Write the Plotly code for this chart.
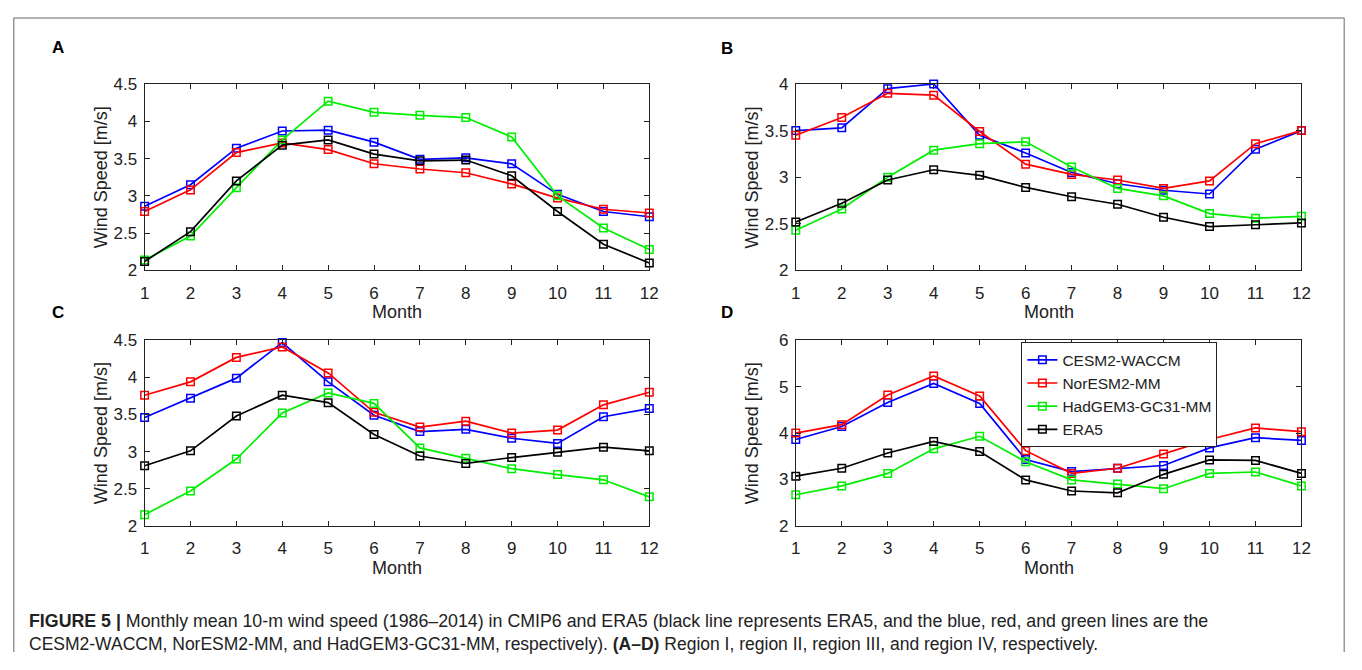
import plotly.graph_objects as go

# The page body keeps the browser's default 8px margin, so the figure is made
# 16px smaller than the window and every pixel position below is "screen - 8".
W, H = 1346, 654

months = list(range(1, 13))
series_names = ["CESM2-WACCM", "NorESM2-MM", "HadGEM3-GC31-MM", "ERA5"]
series_colors = ["#0000ff", "#ff0000", "#00ee00", "#000000"]

# Panel A (Region I)
a_cesm = [2.86, 3.15, 3.64, 3.87, 3.88, 3.72, 3.49, 3.51, 3.43, 3.02, 2.79, 2.72]
a_nor = [2.79, 3.08, 3.58, 3.71, 3.62, 3.43, 3.36, 3.31, 3.16, 2.97, 2.82, 2.77]
a_had = [2.14, 2.46, 3.11, 3.75, 4.27, 4.12, 4.08, 4.05, 3.79, 3.00, 2.57, 2.28]
a_era = [2.12, 2.52, 3.20, 3.68, 3.75, 3.56, 3.47, 3.48, 3.27, 2.79, 2.35, 2.10]
# Panel B (Region II)
b_cesm = [3.50, 3.53, 3.95, 4.00, 3.45, 3.26, 3.05, 2.93, 2.86, 2.82, 3.30, 3.50]
b_nor = [3.45, 3.64, 3.90, 3.88, 3.49, 3.14, 3.03, 2.97, 2.88, 2.96, 3.36, 3.50]
b_had = [2.43, 2.66, 3.00, 3.29, 3.36, 3.38, 3.11, 2.88, 2.80, 2.61, 2.56, 2.58]
b_era = [2.52, 2.72, 2.97, 3.08, 3.02, 2.89, 2.79, 2.71, 2.57, 2.47, 2.49, 2.51]
# Panel C (Region III)
c_cesm = [3.46, 3.72, 3.99, 4.47, 3.94, 3.49, 3.27, 3.30, 3.18, 3.11, 3.47, 3.58]
c_nor = [3.76, 3.94, 4.27, 4.41, 4.06, 3.53, 3.33, 3.41, 3.25, 3.29, 3.63, 3.80]
c_had = [2.15, 2.47, 2.90, 3.52, 3.79, 3.65, 3.05, 2.91, 2.77, 2.69, 2.62, 2.39]
c_era = [2.81, 3.01, 3.48, 3.76, 3.66, 3.23, 2.94, 2.84, 2.92, 2.99, 3.06, 3.01]
# Panel D (Region IV)
d_cesm = [3.86, 4.14, 4.66, 5.07, 4.64, 3.43, 3.17, 3.24, 3.30, 3.68, 3.90, 3.84]
d_nor = [4.00, 4.18, 4.82, 5.23, 4.80, 3.62, 3.13, 3.24, 3.55, 3.86, 4.11, 4.03]
d_had = [2.67, 2.86, 3.13, 3.66, 3.93, 3.38, 2.99, 2.90, 2.80, 3.13, 3.16, 2.86]
d_era = [3.07, 3.24, 3.57, 3.82, 3.60, 2.99, 2.75, 2.71, 3.11, 3.42, 3.41, 3.13]

panel_labels = ["A", "B", "C", "D"]
panel_data = [
    [a_cesm, a_nor, a_had, a_era],
    [b_cesm, b_nor, b_had, b_era],
    [c_cesm, c_nor, c_had, c_era],
    [d_cesm, d_nor, d_had, d_era],
]
y_ranges = [[2, 4.5], [2, 4], [2, 4.5], [2, 6]]
y_ticks = [
    [2, 2.5, 3, 3.5, 4, 4.5],
    [2, 2.5, 3, 3.5, 4],
    [2, 2.5, 3, 3.5, 4, 4.5],
    [2, 3, 4, 5, 6],
]
y_ticktext = [
    ["2", "2.5", "3", "3.5", "4", "4.5"],
    ["2", "2.5", "3", "3.5", "4"],
    ["2", "2.5", "3", "3.5", "4", "4.5"],
    ["2", "3", "4", "5", "6"],
]

# panel boxes in figure pixels (left, right, top, bottom)
boxes = [(133, 643, 69, 261), (791, 1302, 69, 261),
         (133, 643, 333, 524), (791, 1302, 333, 524)]
letter_pos = [(45, 31), (721, 32), (45, 304), (721, 304)]

FONT = "Liberation Sans, Arial, Helvetica, sans-serif"
AXC = "#222222"
TXT = "#222222"

fig = go.Figure()
layout = dict(
    width=W, height=H, margin=dict(l=0, r=0, t=0, b=0),
    paper_bgcolor="white", plot_bgcolor="white",
    font=dict(family=FONT, size=17, color=TXT),
    showlegend=True,
)
annotations = []
for i, (data, box) in enumerate(zip(panel_data, boxes)):
    l, r, t, b = box
    xa = "x" if i == 0 else f"x{i+1}"
    ya = "y" if i == 0 else f"y{i+1}"
    for j, vals in enumerate(data):
        fig.add_trace(go.Scatter(
            x=months, y=vals, mode="lines+markers", name=series_names[j],
            xaxis=xa, yaxis=ya, cliponaxis=False,
            showlegend=(i == 3), legendrank=j,
            line=dict(color=series_colors[j], width=1.7),
            marker=dict(symbol="square-open", size=7.5,
                        line=dict(color=series_colors[j], width=1.5)),
        ))
    xkey = "xaxis" if i == 0 else f"xaxis{i+1}"
    ykey = "yaxis" if i == 0 else f"yaxis{i+1}"
    layout[xkey] = dict(
        domain=[l / W, r / W], anchor=ya, range=[1, 12],
        tickmode="array", tickvals=months, ticktext=[str(m) for m in months],
        ticks="inside", ticklen=5, tickcolor=AXC, showline=True, linecolor=AXC,
        linewidth=1, mirror="ticks", showgrid=False, zeroline=False,
        tickfont=dict(size=17, color=TXT), ticklabelstandoff=7,
    )
    layout[ykey] = dict(
        domain=[1 - b / H, 1 - t / H], anchor=xa, range=y_ranges[i],
        tickmode="array", tickvals=y_ticks[i], ticktext=y_ticktext[i],
        ticks="inside", ticklen=5, tickcolor=AXC, showline=True, linecolor=AXC,
        linewidth=1, mirror="ticks", showgrid=False, zeroline=False,
        tickfont=dict(size=17, color=TXT), ticklabelstandoff=3,
    )
    annotations.append(dict(
        text="Wind Speed [m/s]", textangle=-90, xref="paper", yref="paper",
        x=(l - 44) / W, y=1 - (t + b) / 2 / H, showarrow=False,
        font=dict(size=18, color=TXT), xanchor="center", yanchor="middle"))
    annotations.append(dict(
        text="Month", xref="paper", yref="paper",
        x=(l + r) / 2 / W, y=1 - (b + 43) / H, showarrow=False,
        font=dict(size=18, color=TXT), xanchor="center", yanchor="middle"))
    lx, ly = letter_pos[i]
    annotations.append(dict(
        text=f"<b>{panel_labels[i]}</b>", xref="paper", yref="paper",
        x=lx / W, y=1 - ly / H, showarrow=False,
        font=dict(size=17, color="#000000"), xanchor="center", yanchor="middle"))

annotations.append(dict(
    text="<b>FIGURE 5 |</b> Monthly mean 10-m wind speed (1986–2014) in CMIP6 and ERA5 "
         "(black line represents ERA5, and the blue, red, and green lines are the",
    xref="paper", yref="paper", x=14 / W, y=1 - 622 / H, showarrow=False,
    xanchor="left", yanchor="middle", font=dict(size=17.8, color=TXT)))
annotations.append(dict(
    text="CESM2-WACCM, NorESM2-MM, and HadGEM3-GC31-MM, respectively). "
         "<b>(A–D)</b> Region I, region II, region III, and region IV, respectively.",
    xref="paper", yref="paper", x=14 / W, y=1 - 646 / H, showarrow=False,
    xanchor="left", yanchor="middle", font=dict(size=17.5, color=TXT)))

layout["annotations"] = annotations
layout["shapes"] = [
    dict(type="line", xref="paper", yref="paper", x0=0.75 / W, x1=0.75 / W,
         y0=0, y1=1 - 1 / H, line=dict(color="#999999", width=1.5)),
    dict(type="line", xref="paper", yref="paper", x0=(W - 0.75) / W, x1=(W - 0.75) / W,
         y0=0, y1=1 - 1 / H, line=dict(color="#999999", width=1.5)),
    dict(type="line", xref="paper", yref="paper", x0=0.75 / W, x1=(W - 0.75) / W,
         y0=1 - 1 / H, y1=1 - 1 / H, line=dict(color="#999999", width=1.5)),
]
layout["legend"] = dict(
    x=1019 / W, y=1 - 335 / H, xanchor="left", yanchor="top",
    bgcolor="white", bordercolor="#222222", borderwidth=1,
    font=dict(size=15.5, color=TXT), tracegroupgap=0,
)
fig.update_layout(**layout)
fig.write_html("out.html")
